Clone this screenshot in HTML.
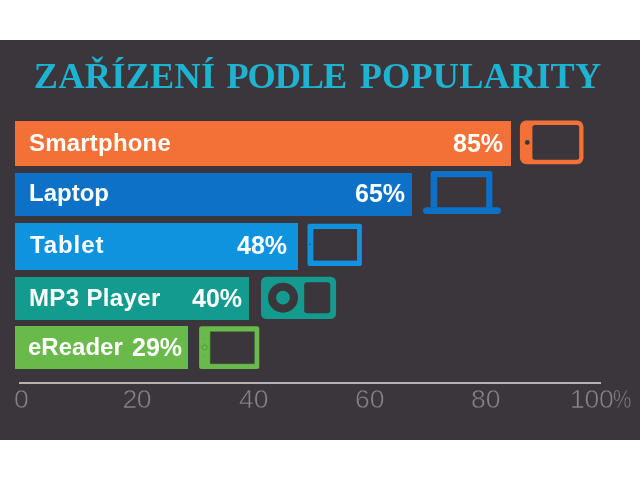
<!DOCTYPE html>
<html lang="cs">
<head>
<meta charset="utf-8">
<title>Zařízení podle popularity</title>
<style>
html,body{margin:0;padding:0;background:#fff;}
body{width:640px;height:480px;position:relative;overflow:hidden;font-family:"Liberation Sans",sans-serif;}
#panel{position:absolute;left:0;top:40px;width:640px;height:399.6px;background:#3a363b;}
#title span{position:absolute;top:0;}
#title{position:absolute;left:0;top:52px;width:640px;font-family:"Liberation Serif",serif;font-weight:bold;font-size:36.3px;line-height:48px;color:#1fb3d2;white-space:nowrap;}
.bar{position:absolute;left:15px;}
.pct{font-size:25px !important;}
.lbl,.pct{position:absolute;color:#fff;font-weight:bold;font-size:24px;line-height:28px;white-space:nowrap;}
.ax{position:absolute;color:#848187;font-size:26.5px;line-height:30px;top:383.5px;white-space:nowrap;-webkit-text-stroke:0.55px #3a363b;}
svg{position:absolute;left:0;top:0;}
</style>
</head>
<body>
<div id="panel"></div>
<div id="title"><span style="left:33.7px;letter-spacing:0.29px">ZAŘÍZENÍ</span> <span style="left:226.5px;letter-spacing:-1.1px">PODLE</span> <span style="left:359.7px;letter-spacing:0.17px">POPULARITY</span></div>

<div class="bar" style="top:121px;width:496px;height:44.9px;background:#f37136"></div>
<div class="bar" style="top:173px;width:396.7px;height:42.7px;background:#0c71c7"></div>
<div class="bar" style="top:223.1px;width:282.8px;height:46.6px;background:#0f93df"></div>
<div class="bar" style="top:276.6px;width:234.4px;height:43.4px;background:#129b8e"></div>
<div class="bar" style="top:326.4px;width:172.7px;height:43.1px;background:#6ab94b"></div>

<div class="lbl" style="left:29px;top:129px;letter-spacing:0.2px">Smartphone</div>
<div class="lbl" style="left:29px;top:179px">Laptop</div>
<div class="lbl" style="left:30px;top:231px;letter-spacing:0.9px">Tablet</div>
<div class="lbl" style="left:29px;top:284px;letter-spacing:0.35px">MP3 Player</div>
<div class="lbl" style="left:28px;top:333px">eReader</div>
<div class="pct" style="left:132px;top:333px">29%</div>

<div class="pct" style="left:453px;top:129px">85%</div>
<div class="pct" style="left:355px;top:179px">65%</div>
<div class="pct" style="left:237px;top:231px">48%</div>
<div class="pct" style="left:192px;top:284px">40%</div>

<svg width="640" height="480" viewBox="0 0 640 480">
  <!-- axis -->
  <rect x="19" y="382" width="582" height="2" fill="#b4b2b7"/>
  <!-- smartphone -->
  <rect x="519.9" y="120.4" width="63.6" height="43.8" rx="6.5" fill="#f37136"/>
  <rect x="532.4" y="125" width="46.8" height="34.8" rx="2.5" fill="#3a363b"/>
  <circle cx="527.3" cy="142.4" r="2.4" fill="#3a363b"/>
  <!-- laptop -->
  <path d="M430.6 207.5 V173.5 a2.5 2.5 0 0 1 2.5 -2.5 H489.9 a2.5 2.5 0 0 1 2.5 2.5 V207.5 H486.2 V177.3 H437.3 V207.5 Z" fill="#0c71c7"/>
  <rect x="423" y="207.2" width="78" height="6.8" rx="3.4" fill="#0c71c7"/>
  <!-- tablet -->
  <rect x="307.5" y="223.8" width="54.4" height="42.2" rx="2" fill="#0f93df"/>
  <rect x="313.4" y="229" width="43.6" height="31.6" fill="#3a363b"/>
  <circle cx="309.9" cy="244.3" r="0.8" fill="#3a363b"/>
  <!-- mp3 -->
  <rect x="261" y="276.7" width="75.1" height="42.3" rx="5.5" fill="#129b8e"/>
  <circle cx="283" cy="297.7" r="10.95" fill="none" stroke="#3a363b" stroke-width="8.1"/>
  <rect x="304.2" y="282.2" width="26" height="31" rx="3" fill="#3a363b"/>
  <!-- ereader -->
  <rect x="199.1" y="326.2" width="60.2" height="42.8" rx="2.5" fill="#6ab94b"/>
  <rect x="209.8" y="331.2" width="45.1" height="33" fill="#4c8a3a"/>
  <rect x="210.4" y="331.8" width="43.9" height="31.8" fill="#3a363b"/>
  <circle cx="204.7" cy="347.4" r="2.4" fill="#72bd55" stroke="#4f9a3a" stroke-width="1"/>
  <circle cx="204.7" cy="338.5" r="0.5" fill="#4f9a3a"/>
  <circle cx="204.7" cy="356.5" r="0.5" fill="#4f9a3a"/>
</svg>

<div class="ax" style="left:14px">0</div>
<div class="ax" style="left:122.5px;letter-spacing:-0.5px">20</div>
<div class="ax" style="left:239px">40</div>
<div class="ax" style="left:355px">60</div>
<div class="ax" style="left:471px">80</div>
<div class="ax" style="left:570px;letter-spacing:-0.3px">100<span style="display:inline-block;transform:scaleX(.78);transform-origin:0 50%;margin-left:-0.5px">%</span></div>
</body>
</html>
